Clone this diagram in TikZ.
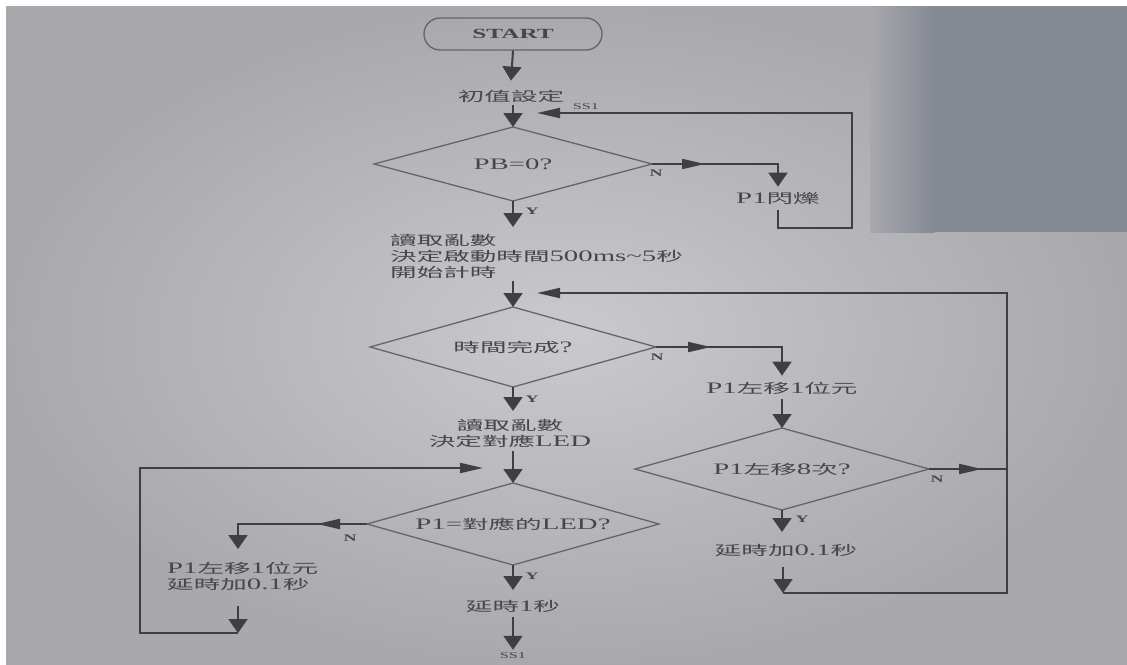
\documentclass[tikz,border=0pt]{standalone}
\usepackage{fontspec}
\setmainfont[FakeStretch=1.8]{Liberation Serif}
\newfontfamily\cjk[FakeStretch=2.0,Scale=0.83]{Noto Sans CJK TC}
\usetikzlibrary{arrows.meta}
\newcommand\C[1]{{\cjk #1}}
\newcommand\lat{\fontsize{16}{16}\selectfont}
\definecolor{bgA}{RGB}{202,202,205}
\definecolor{bgB}{RGB}{168,168,173}
\definecolor{bluish}{RGB}{132,137,147}
\definecolor{ink}{RGB}{70,70,76}
\definecolor{lineclr}{RGB}{62,62,68}
\definecolor{dline}{RGB}{100,100,106}
\tikzset{
  vtip/.tip={Triangle[width=19pt,length=14pt]},
  htip/.tip={Triangle[width=10pt,length=23pt]},
  txt/.style={inner sep=0pt, text=ink, font=\lat},
  diatext/.style={inner sep=0pt, text=ink, font=\lat},
  diaborder/.style={draw=dline, line width=1.3pt, line join=miter},
  term/.style={draw=dline, line width=1.3pt, rounded corners=16pt, inner sep=0pt,
    minimum width=178pt, minimum height=32pt, text=ink, font=\fontsize{14}{14}\selectfont\bfseries},
  conn/.style={draw=lineclr, line width=2pt},
  lbl/.style={inner sep=0pt, text=ink, font=\fontsize{10}{10}\selectfont\bfseries},
  small/.style={inner sep=0pt, text=ink, font=\fontsize{9}{9}\selectfont},
}
% decision: name, x, y, half width, half height, text
\newcommand\decision[6]{%
  \node[diatext] (#1) at (#2,#3) {#6};
  \coordinate (#1n) at (#2,{#3-#5});
  \coordinate (#1s) at (#2,{#3+#5});
  \coordinate (#1e) at ({#2+#4},#3);
  \coordinate (#1w) at ({#2-#4},#3);
  \draw[diaborder] (#1n) -- (#1e) -- (#1s) -- (#1w) -- cycle;
}
\begin{document}
\begin{tikzpicture}[x=1pt,y=-1pt]
% background (photo of a page)
\fill[white] (0,0) rectangle (1127,664);
\shade[inner color=bgA, outer color=bgB] (6,6) rectangle (1127,664);
\shade[left color=bgB, right color=bluish] (870,6) rectangle (935,232);
\fill[bluish] (935,6) rectangle (1127,232);
\useasboundingbox (0,0) rectangle (1127,664);

% nodes
\node[term] (start) at (513,34) {START};
\node[txt] (init) at (511,96) {\C{初值設定}};
\decision{d1}{513}{164}{139}{37}{PB=0?}
\node[txt] (flash) at (778,198) {P1\C{閃爍}};
\node[txt, anchor=west, align=left] (rand1) at (390,256)
  {\C{讀取亂數}\\\C{決定啟動時間}500ms\textasciitilde5\C{秒}\\\C{開始計時}};
\decision{d2}{513}{347}{143}{40}{\C{時間完成}?}
\node[txt] (shift1) at (782,388) {P1\C{左移}1\C{位元}};
\decision{d3}{782}{469}{147}{41}{P1\C{左移}8\C{次}?}
\node[txt] (delay01) at (786,550) {\C{延時加}0.1\C{秒}};
\node[txt, align=center] (rand2) at (510,433) {\C{讀取亂數}\\\C{決定對應}LED};
\decision{d4}{513}{524}{146}{41}{P1=\C{對應的}LED?}
\node[txt, anchor=west, align=left] (shift2) at (167,576) {P1\C{左移}1\C{位元}\\\C{延時加}0.1\C{秒}};
\node[txt] (delay1) at (513,606) {\C{延時}1\C{秒}};
\node[small] (ss1b) at (513,656) {SS1};
\node[small] (ss1t) at (586,107) {SS1};

% branch labels
\node[lbl] (n1) at (656,173) {N};
\node[lbl] (y1) at (532,211) {Y};
\node[lbl] (n2) at (657,357) {N};
\node[lbl] (y2) at (532,399) {Y};
\node[lbl] (n3) at (937,479) {N};
\node[lbl] (y3) at (802,519) {Y};
\node[lbl] (n4) at (350,538) {N};
\node[lbl] (y4) at (532,576) {Y};

% helper coordinates (bends and free ends)
\coordinate (l1a) at (852,228);
\coordinate (l1b) at (852,113);
\coordinate (l1tip) at (537,113);
\coordinate (r0) at (783,567);
\coordinate (r1) at (783,593);
\coordinate (r2) at (1007,593);
\coordinate (r3) at (1007,293);
\coordinate (r4) at (537,293);
\coordinate (c4tip) at (238,549);
\coordinate (m4tip) at (317,524);
\coordinate (s2a) at (238,606);
\coordinate (s2b) at (238,633);
\coordinate (s2c) at (140,633);
\coordinate (s2d) at (140,468);
\coordinate (s2tip) at (483,468);

% connectors
\draw[conn,-vtip] (start.south) -- ([yshift=9pt]init.north);
\draw[conn,-vtip, shorten <=3pt] (init.south -| d1n) -- (d1n);
\draw[conn,-vtip] (d1e) -| ([yshift=5pt]flash.north);
\draw[conn,-htip] (d1e) -- ++(53,0);
\draw[conn,-htip] ([yshift=-6pt]flash.south) |- (l1a) -- (l1b) -- (l1tip);
\draw[conn,-vtip] (d1s) -- ++(0,26);
\draw[conn,-vtip, shorten <=3pt] (rand1.south -| d2n) -- (d2n);
\draw[conn,-vtip] (d2e) -| ([yshift=6pt]shift1.north);
\draw[conn,-htip] (d2e) -- ++(55,0);
\draw[conn,-vtip] ([yshift=-5pt]shift1.south) -- (d3n);
\draw[conn] (d3e) -- (d3e -| r2);
\draw[conn,-htip] (d3e) -- ++(53,0);
\draw[conn,-vtip] (d3s) -- ++(0,22);
\draw[conn,-vtip] (r0) -- (r1);
\draw[conn,-htip] (r1) -- (r2) -- (r3) -- (r4);
\draw[conn,-vtip] (d2s) -- ++(0,24);
\draw[conn,-vtip, shorten <=4pt] (rand2.south -| d4n) -- (d4n);
\draw[conn,-vtip] (d4w) -| (c4tip);
\draw[conn,-htip] (d4w) -- (m4tip);
\draw[conn,-vtip] (s2a) -- (s2b);
\draw[conn,-htip] (s2b) -- (s2c) -- (s2d) -- (s2tip);
\draw[conn,-vtip] (d4s) -- ++(0,25);
\draw[conn,-vtip, shorten <=5pt, shorten >=3pt] (delay1.south) -- (ss1b.north);
\end{tikzpicture}
\end{document}
